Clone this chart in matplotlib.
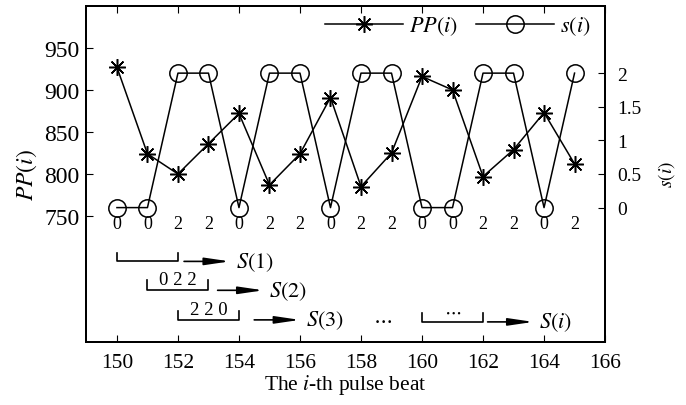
import numpy as np
import matplotlib
matplotlib.use('Agg')
import matplotlib.pyplot as plt

plt.rcParams['font.family'] = ['Liberation Serif', 'DejaVu Serif']
plt.rcParams['mathtext.fontset'] = 'stix'

beats = [150, 151, 152, 153, 154, 155, 156, 157,
         158, 159, 160, 161, 162, 163, 164, 165]
pp = [927, 824, 800, 836, 872, 787, 824, 891,
      785, 825, 916, 900, 797, 829, 873, 812]
s = [0, 0, 2, 2, 0, 2, 2, 0, 2, 2, 0, 0, 2, 2, 0, 2]

# sliding windows of the symbol sequence
windows = [(150, 152, '', '$S(1)$'), (151, 153, '0 2 2', '$S(2)$'),
           (152, 154, '2 2 0', '$S(3)$'), (160, 162, '$\\cdots$', '$S(i)$')]

fig = plt.figure(figsize=(6.86, 4.06), dpi=100)
ax = fig.add_axes([0.126, 0.155, 0.756, 0.828])
ax2 = ax.twinx()

star = (8, 2, 0)
l1, = ax.plot(beats, pp, color='black', lw=1.1, marker=star, ms=12, mew=1.1)
l2, = ax2.plot(beats, s, color='black', lw=1.1, marker='o', ms=12.5,
               mfc='none', mew=1.1)

ax.set_xlim(149, 166)
ax.set_ylim(600, 1000)
ax2.set_ylim(-2, 3)
ax.set_xticks(range(150, 168, 2))
ax.set_yticks([750, 800, 850, 900, 950])
ax2.set_yticks([0, 0.5, 1, 1.5, 2])
ax2.set_yticklabels(['0', '0.5', '1', '1.5', '2'])

ax.tick_params(axis='x', direction='in', top=True, labelsize=15.5, length=5, pad=8)
ax.tick_params(axis='y', direction='in', labelsize=17, length=5, pad=5)
ax2.tick_params(axis='y', direction='in', labelsize=14, length=5, pad=9)
for a in (ax, ax2):
    for sp in a.spines.values():
        sp.set_linewidth(1.4)

ax.set_xlabel('The $i$-th pulse beat', fontsize=15.5, labelpad=0)
ax.set_ylabel('$PP(i)$', fontsize=17, labelpad=4)
ax2.set_ylabel('$s(i)$', fontsize=14, labelpad=10)

# symbol row under the curve
for b, v in zip(beats, s):
    ax2.text(b, -0.24, str(v), fontsize=13, ha='center', va='center')

ylev = [(-0.8, -0.67), (-1.23, -1.08), (-1.67, -1.54), (-1.70, -1.57)]
arr = [(152.2, 153.7), (153.3, 154.8), (154.5, 156.0), (162.15, 163.65)]
for (x0, x1, lab, name), (yb, yt), (a0, a1) in zip(windows, ylev, arr):
    ax2.plot([x0, x0, x1, x1], [yt, yb, yb, yt], color='black', lw=1.2,
             clip_on=False)
    if lab:
        ax2.text((x0 + x1) / 2, yb + 0.03, lab, fontsize=13.5, ha='center',
                 va='bottom')
    ax2.annotate('', xy=(a1, yb), xytext=(a0, yb),
                 arrowprops=dict(arrowstyle='-|>,head_length=1.5,head_width=0.22',
                                 color='black', lw=1.2, shrinkA=0, shrinkB=0))
    ax2.text(a1 + 0.2, yb, name, fontsize=16, ha='left', va='center')
ax2.text(158.7, -1.67, '$\\cdots$', fontsize=15, ha='center', va='center')

ax.legend([l1, l2], ['$PP(i)$', '$s(i)$'], loc='upper right', ncol=2,
          frameon=False, fontsize=16, handlelength=3.5, columnspacing=0.8,
          handletextpad=0.3, borderaxespad=0.0, bbox_to_anchor=(0.99, 1.0))

fig.savefig('out.png', dpi=100)
